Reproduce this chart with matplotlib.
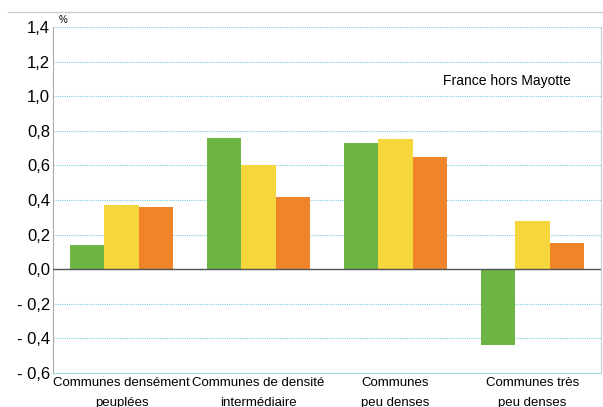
import matplotlib.pyplot as plt
import numpy as np
from matplotlib.lines import Line2D

plt.rcParams['font.family'] = ['Liberation Sans', 'DejaVu Sans']

categories = ["Communes densément\npeuplées", "Communes de densité\nintermédiaire",
              "Communes\npeu denses", "Communes très\npeu denses"]
serie_verte = [0.14, 0.76, 0.73, -0.44]
serie_jaune = [0.37, 0.60, 0.75, 0.28]
serie_orange = [0.36, 0.42, 0.65, 0.15]
yticks = [-0.6, -0.4, -0.2, 0.0, 0.2, 0.4, 0.6, 0.8, 1.0, 1.2, 1.4]
couleurs = ['#6db545', '#f5d63d', '#ef842b']

fig = plt.figure(figsize=(6.03, 4.07), dpi=100)
ax = fig.add_axes([0.0879, 0.0835, 0.9088, 0.8502])

x = np.arange(len(categories))
w = 0.25
for i, (vals, c) in enumerate(zip([serie_verte, serie_jaune, serie_orange], couleurs)):
    ax.bar(x + (i - 1) * w, vals, w, color=c, zorder=3)

ax.set_xlim(-0.5, 3.5)
ax.set_ylim(-0.6, 1.4)
ax.set_yticks(yticks)
ax.set_yticklabels([("- " if v < 0 else "") + f"{abs(v):.1f}".replace('.', ',') for v in yticks],
                   fontsize=12)
ax.set_xticks(x)
ax.set_xticklabels(categories, fontsize=9.5, linespacing=1.85)
ax.tick_params(axis='both', length=0, pad=2)
ax.tick_params(axis='x', pad=3)

ax.grid(axis='y', color='#7fd0dc', linestyle=(0, (1, 1)), linewidth=0.8, zorder=0)
ax.axhline(0, color='#555555', linewidth=1, zorder=4)
ax.spines['left'].set_color('#aaaaaa')
ax.spines['right'].set_color('#cccccc')
ax.spines['top'].set_visible(False)
ax.spines['bottom'].set_color('#9fdbe4')
ax.spines['bottom'].set_linestyle((0, (1, 1)))

ax.text(0.01, 1.005, '%', transform=ax.transAxes, fontsize=7, va='bottom')
ax.text(2.81, 1.087, 'France hors Mayotte', fontsize=10, ha='center', va='center')

fig.add_artist(Line2D([0.013, 1.0], [0.97, 0.97], transform=fig.transFigure,
                      color='#cccccc', linewidth=1))

fig.savefig('out.png', dpi=100)
